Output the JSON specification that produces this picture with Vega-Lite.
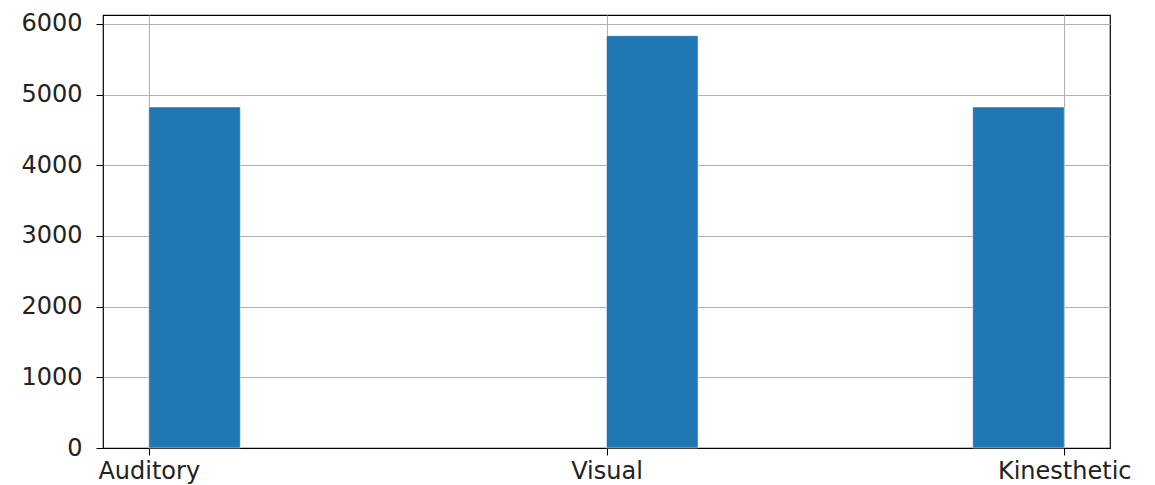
{
  "$schema": "https://vega.github.io/schema/vega-lite/v6.json",
  "autosize": "none",
  "width": 1007,
  "height": 433,
  "padding": {"left": 103, "top": 15, "right": 45, "bottom": 37},
  "background": "white",
  "config": {
    "view": {"stroke": "#000000", "strokeWidth": 1.2},
    "axis": {
      "labelFont": "DejaVu Sans",
      "labelFontSize": 24,
      "labelColor": "#222222",
      "tickColor": "#000000",
      "tickSize": 7,
      "tickWidth": 1,
      "domain": false,
      "gridColor": "#b0b0b0",
      "gridWidth": 1,
      "title": null
    }
  },
  "data": {
    "values": [
      {"category": "Auditory", "x0": 0.0, "x1": 0.2, "count": 4825},
      {"category": "Visual", "x0": 1.0, "x1": 1.2, "count": 5834},
      {"category": "Kinesthetic", "x0": 1.8, "x1": 2.0, "count": 4825}
    ]
  },
  "mark": {"type": "bar", "color": "#1f77b4", "stroke": "#ffffff", "strokeWidth": 0.5},
  "encoding": {
    "x": {
      "field": "x0",
      "type": "quantitative",
      "scale": {"domain": [-0.1, 2.1], "nice": false, "zero": false},
      "axis": {
        "values": [0, 1, 2],
        "labelExpr": "datum.value == 0 ? 'Auditory' : datum.value == 1 ? 'Visual' : 'Kinesthetic'",
        "labelPadding": 4,
        "grid": true,
        "labelFlush": false
      }
    },
    "x2": {"field": "x1"},
    "y": {
      "field": "count",
      "type": "quantitative",
      "scale": {"domain": [0, 6127], "nice": false},
      "axis": {
        "values": [0, 1000, 2000, 3000, 4000, 5000, 6000],
        "format": "d",
        "grid": true,
        "gridColor": {"condition": {"test": "datum.value == 0", "value": "#000000"}, "value": "#b0b0b0"},
        "labelPadding": 14,
        "labelBaseline": "middle"
      }
    },
    "y2": {"datum": 0}
  }
}
